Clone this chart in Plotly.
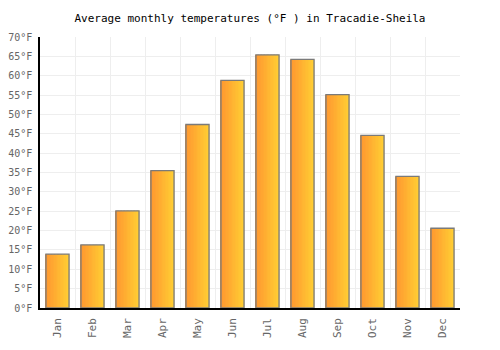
import plotly.graph_objects as go

months = ["Jan", "Feb", "Mar", "Apr", "May", "Jun", "Jul", "Aug", "Sep", "Oct", "Nov", "Dec"]
temps_f = [13.9, 16.3, 25.1, 35.5, 47.4, 58.8, 65.4, 64.2, 55.1, 44.6, 34.0, 20.6]
y_ticks = list(range(0, 75, 5))
y_labels = [f"{v}°F" for v in y_ticks]

fig = go.Figure()

bar_w = 0.66
n_strips = 16
c0 = (255, 152, 48)
c1 = (255, 204, 51)
strip_w = bar_w / n_strips
for i in range(n_strips):
    t = i / (n_strips - 1)
    col = tuple(round(a + (b - a) * t) for a, b in zip(c0, c1))
    fig.add_trace(go.Bar(
        x=months, y=temps_f,
        width=strip_w * 1.15,
        offset=-bar_w / 2 + i * strip_w,
        marker=dict(color=f"rgb{col}", line=dict(width=0)),
        hoverinfo="skip", showlegend=False,
    ))

fig.add_trace(go.Bar(
    x=months, y=temps_f, width=bar_w,
    marker=dict(color="rgba(0,0,0,0)", line=dict(color="#7a7a7a", width=1.3)),
    showlegend=False,
))

fig.update_layout(
    barmode="overlay",
    width=500, height=350,
    margin=dict(l=40, r=40, t=37, b=42),
    plot_bgcolor="white", paper_bgcolor="white",
    title=dict(text="Average monthly temperatures (°F ) in Tracadie-Sheila",
               x=0.5, xanchor="center", y=0.947, yanchor="middle",
               font=dict(family="DejaVu Sans Mono", size=11, color="#000")),
    font=dict(family="DejaVu Sans Mono", size=11, color="#666"),
)
fig.update_xaxes(
    type="category", tickson="boundaries", showgrid=True, gridcolor="#eeeeee",
    tickangle=-90, showline=True, linecolor="black", linewidth=1.5,
    ticks="", tickfont=dict(size=11, color="#666"), range=[-0.5, 11.5],
    ticklabelstandoff=4, automargin=False,
)
fig.update_yaxes(
    range=[0, 70], tickvals=y_ticks, ticktext=y_labels, showgrid=True,
    gridcolor="#eeeeee", showline=True, linecolor="black", linewidth=1.5,
    ticks="", zeroline=False, tickfont=dict(size=10, color="#666"),
    ticklabelstandoff=4, automargin=False,
)

fig.write_html("out.html")
